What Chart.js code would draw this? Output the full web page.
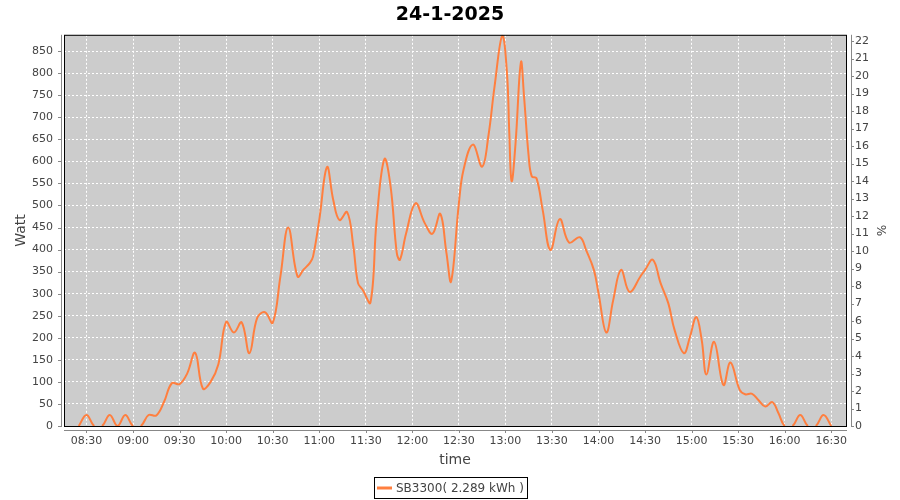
<!DOCTYPE html>
<html>
<head>
<meta charset="utf-8">
<script src="https://cdn.jsdelivr.net/npm/chart.js@4.4.1/dist/chart.umd.min.js"></script>
<style>
  html, body { margin: 0; padding: 0; background: #fff; }
</style>
</head>
<body>
<canvas id="powerChart" width="900" height="500"></canvas>
<script>
// time of day in minutes since midnight
const timeMin = [505, 510, 515, 520, 525, 530, 535, 540, 545, 550, 555, 560, 565, 570, 575, 580, 585, 590, 595,
  600, 605, 610, 615, 620, 625, 630, 635, 640, 646, 650, 654, 656, 660, 665, 669, 673, 678, 682, 685, 688,
  693, 697, 702, 706, 710, 712, 716, 722, 728, 733, 738, 742, 745, 750, 753, 759, 765, 769, 773, 778,
  781, 782.5, 784, 786.5, 790, 792, 795, 797, 800, 804, 809, 815, 821, 828, 832, 837, 840, 845, 849.5,
  854.5, 860, 867, 870, 875, 880, 885, 889, 895, 899, 903, 906.5, 909.5, 914.5, 920.5, 925, 931, 934.5,
  939, 943, 947.5, 952, 956, 960, 965, 970, 975, 980, 985, 990];
const watt = [0, 25, 0, 0, 25, 0, 25, 0, 0, 25, 24, 55, 97, 95, 120, 166, 85, 100, 140,
  236, 212, 235, 165, 245, 258, 234, 340, 450, 339, 355, 370, 384, 467, 587, 513, 467, 485, 407, 324, 309,
  280, 467, 605, 543, 392, 377, 437, 505, 460, 436, 481, 392, 328, 505, 581, 638, 588, 657, 770, 885,
  800, 664, 555, 640, 825, 747, 611, 566, 562, 490, 399, 469, 416, 428, 399, 354, 301, 212, 286,
  354, 304, 339, 354, 377, 324, 278, 218, 165, 203, 247, 195, 117, 191, 93, 144, 82, 72,
  73, 59, 44, 54, 29, 0, 0, 25, 0, 0, 25, 0];

const xTickLabels = ['08:30', '09:00', '09:30', '10:00', '10:30', '11:00', '11:30', '12:00', '12:30',
  '13:00', '13:30', '14:00', '14:30', '15:00', '15:30', '16:00', '16:30'];
const wattTicks = [0, 50, 100, 150, 200, 250, 300, 350, 400, 450, 500, 550, 600, 650, 700, 750, 800, 850];
const pctTicks = [0, 1, 2, 3, 4, 5, 6, 7, 8, 9, 10, 11, 12, 13, 14, 15, 16, 17, 18, 19, 20, 21, 22];
const seriesLabel = 'SB3300( 2.289 kWh )';
const chartTitle = '24-1-2025';

const lineColor = '#ff7f3f';
const tickFont = { family: 'DejaVu Sans', size: 11 };
const textColor = '#444444';

function toMin(s) {
  const p = s.split(':');
  return parseInt(p[0], 10) * 60 + parseInt(p[1], 10);
}
function toLabel(m) {
  const h = Math.floor(m / 60), mm = Math.round(m % 60);
  return String(h).padStart(2, '0') + ':' + String(mm).padStart(2, '0');
}
const xTickMins = xTickLabels.map(toMin);

// plot background, frame, offset axis lines, tick marks and boxed legend
const framePlugin = {
  id: 'frame',
  beforeDraw(chart) {
    const { ctx, chartArea: a } = chart;
    ctx.save();
    ctx.fillStyle = '#ffffff';
    ctx.fillRect(0, 0, chart.width, chart.height);
    ctx.fillStyle = '#cccccc';
    ctx.fillRect(a.left, a.top, a.right - a.left, a.bottom - a.top);
    ctx.restore();
  },
  afterDraw(chart) {
    const { ctx, chartArea: a, scales } = chart;
    ctx.save();
    ctx.strokeStyle = '#000';
    ctx.lineWidth = 1;
    ctx.strokeRect(a.left + 0.5, a.top + 0.5, a.right - a.left, a.bottom - a.top);

    ctx.strokeStyle = '#888888';
    ctx.beginPath();
    // left axis
    ctx.moveTo(a.left - 2.5, a.top);
    ctx.lineTo(a.left - 2.5, a.bottom + 1);
    scales.y.ticks.forEach(t => {
      const py = Math.round(scales.y.getPixelForValue(t.value)) + 0.5;
      ctx.moveTo(a.left - 6, py);
      ctx.lineTo(a.left - 2.5, py);
    });
    // bottom axis
    ctx.moveTo(a.left, a.bottom + 4.5);
    ctx.lineTo(a.right + 1, a.bottom + 4.5);
    scales.x.ticks.forEach(t => {
      const px = Math.round(scales.x.getPixelForValue(t.value)) + 0.5;
      ctx.moveTo(px, a.bottom + 4.5);
      ctx.lineTo(px, a.bottom + 7);
    });
    // right axis
    ctx.moveTo(a.right + 5.5, a.top);
    ctx.lineTo(a.right + 5.5, a.bottom + 1);
    scales.yPct.ticks.forEach(t => {
      const py = Math.round(scales.yPct.getPixelForValue(t.value)) + 0.5;
      ctx.moveTo(a.right + 5.5, py);
      ctx.lineTo(a.right + 8, py);
    });
    ctx.stroke();

    // legend box
    const ds = chart.data.datasets[0];
    ctx.font = '12px "DejaVu Sans"';
    const tw = ctx.measureText(ds.label).width;
    const boxW = Math.round(3 + 15 + 4 + tw + 3);
    const boxX = Math.round(chart.width / 2 - boxW / 2);
    const boxY = chart.height - 23;
    ctx.strokeStyle = '#000';
    ctx.strokeRect(boxX + 0.5, boxY + 0.5, boxW, 21);
    ctx.strokeStyle = lineColor;
    ctx.lineWidth = 3;
    ctx.beginPath();
    ctx.moveTo(boxX + 3, boxY + 11);
    ctx.lineTo(boxX + 18, boxY + 11);
    ctx.stroke();
    ctx.fillStyle = textColor;
    ctx.textBaseline = 'middle';
    ctx.fillText(ds.label, boxX + 22, boxY + 11.5);
    ctx.restore();
  }
};

new Chart(document.getElementById('powerChart'), {
  type: 'line',
  data: {
    datasets: [{
      label: seriesLabel,
      data: timeMin.map((t, i) => ({ x: t, y: watt[i] })),
      borderColor: lineColor,
      borderWidth: 2,
      pointRadius: 0,
      tension: 0.4,
      fill: false,
      yAxisID: 'y',
      segment: {
        borderColor: c => (c.p0.parsed.y === 0 && c.p1.parsed.y === 0) ? 'rgba(0,0,0,0)' : lineColor
      }
    }]
  },
  options: {
    responsive: false,
    animation: false,
    layout: { padding: { left: 0, right: 0, top: 0, bottom: 30 } },
    plugins: {
      legend: { display: false },
      tooltip: { enabled: false },
      title: {
        display: true,
        text: chartTitle,
        color: '#000',
        font: { family: 'DejaVu Sans', size: 19, weight: 'bold' },
        padding: { top: 4, bottom: 8 }
      }
    },
    scales: {
      x: {
        type: 'linear',
        min: 495.5,
        max: 999.5,
        afterBuildTicks: s => { s.ticks = xTickMins.map(v => ({ value: v })); },
        afterFit: s => { s.height = 44; },
        ticks: {
          autoSkip: false,
          maxRotation: 0,
          font: tickFont,
          color: textColor,
          padding: 9,
          callback: v => toLabel(v)
        },
        grid: { color: '#ffffff', lineWidth: 1, drawTicks: false },
        border: { display: false, dash: [2, 2] },
        title: {
          display: true, text: 'time', color: textColor,
          font: { family: 'DejaVu Sans', size: 14 },
          padding: { top: 2, bottom: 1 }
        }
      },
      y: {
        position: 'left',
        min: 0,
        max: 887,
        afterBuildTicks: s => { s.ticks = wattTicks.map(v => ({ value: v })); },
        afterFit: s => { s.width = 64; },
        ticks: { font: tickFont, color: textColor, padding: 11 },
        grid: { color: '#ffffff', lineWidth: 1, drawTicks: false },
        border: { display: false, dash: [2, 2] },
        title: {
          display: true, text: 'Watt', color: textColor,
          font: { family: 'DejaVu Sans', size: 14 },
          padding: { top: 13, bottom: 13 }
        }
      },
      yPct: {
        position: 'right',
        min: 0,
        max: 22.36,
        afterBuildTicks: s => { s.ticks = pctTicks.map(v => ({ value: v })); },
        afterFit: s => { s.width = 54; },
        ticks: { font: tickFont, color: textColor, padding: 9 },
        grid: { display: false, drawTicks: false },
        border: { display: false },
        title: {
          display: true, text: '%', color: textColor,
          font: { family: 'DejaVu Sans', size: 12 },
          padding: { top: 13, bottom: 13 }
        }
      }
    }
  },
  plugins: [framePlugin]
});
</script>
</body>
</html>
